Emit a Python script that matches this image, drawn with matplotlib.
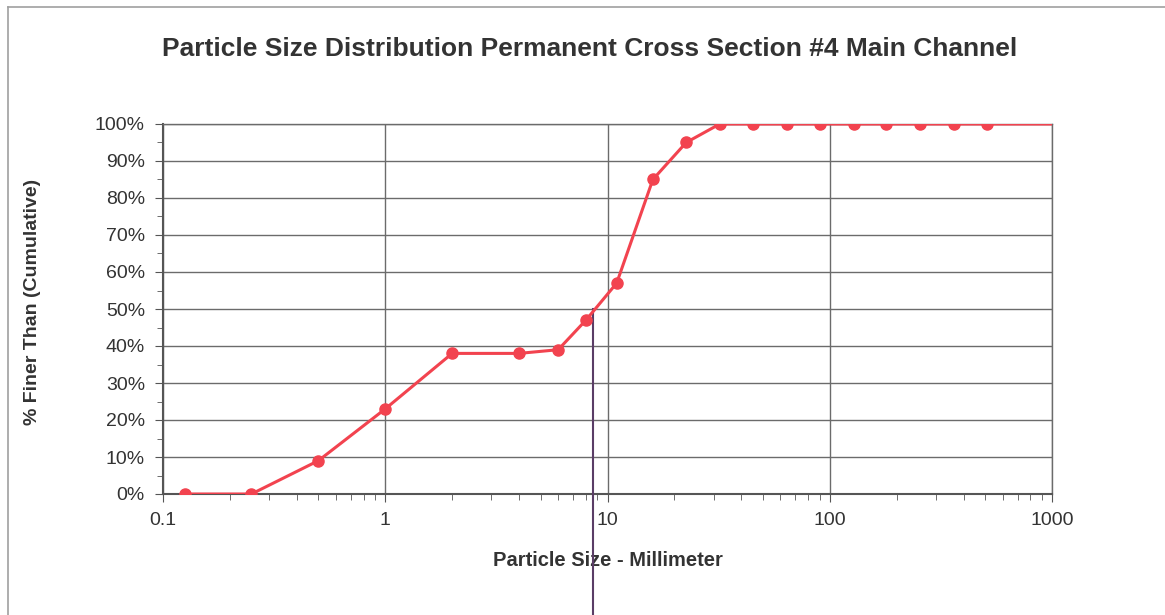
import matplotlib
matplotlib.use("Agg")
import matplotlib.pyplot as plt
from matplotlib.lines import Line2D
from matplotlib.ticker import FuncFormatter, MultipleLocator, LogLocator, NullFormatter

plt.rcParams["font.family"] = ["Liberation Sans", "DejaVu Sans"]

# sieve sizes (mm) and cumulative percent finer
sizes = [0.125, 0.25, 0.5, 1, 2, 4, 6, 8, 11, 16, 22.6, 32, 45, 64, 90,
         128, 180, 256, 362, 512, 1024]
finer = [0, 0, 9, 23, 38, 38, 39, 47, 57, 85, 95, 100, 100, 100, 100,
         100, 100, 100, 100, 100, 100]
d50 = 8.6  # mm, D50 marker line

x_ticks = [0.1, 1, 10, 100, 1000]
x_tick_labels = ["0.1", "1", "10", "100", "1000"]

text_col = "#333333"
grid_col = "#6b6b6b"
red = "#f2434f"

fig = plt.figure(figsize=(11.65, 6.15), dpi=100)
ax = fig.add_axes([163 / 1165, 121 / 615, 889 / 1165, 370 / 615])

ax.set_xscale("log")
ax.set_xlim(0.1, 1000)
ax.set_ylim(0, 100)

ax.plot(sizes, finer, color=red, lw=2.2, marker="o", ms=8,
        markevery=list(range(len(sizes) - 1)), zorder=4)

# D50 indicator running below the axes
ax.plot([d50, d50], [50, -33], color="#5a3d66", lw=1.5, clip_on=False, zorder=3)

ax.set_xticks(x_ticks)
ax.set_xticklabels(x_tick_labels)
ax.xaxis.set_minor_locator(LogLocator(base=10, subs=range(2, 10)))
ax.xaxis.set_minor_formatter(NullFormatter())
ax.yaxis.set_major_locator(MultipleLocator(10))
ax.yaxis.set_minor_locator(MultipleLocator(5))
ax.yaxis.set_major_formatter(FuncFormatter(lambda v, p: f"{int(v)}%"))

ax.grid(which="major", color=grid_col, lw=1.0)
ax.set_axisbelow(True)
for s in ax.spines.values():
    s.set_color(grid_col)
    s.set_linewidth(1.0)
ax.spines["left"].set_color("#555555")
ax.spines["bottom"].set_color("#555555")
ax.spines["left"].set_linewidth(1.5)
ax.spines["bottom"].set_linewidth(1.5)

ax.tick_params(which="major", direction="out", length=6, color="#555555",
               labelsize=14, labelcolor=text_col, pad=7)
ax.tick_params(which="minor", direction="out", length=4, color="#555555")

ax.set_xlabel("Particle Size - Millimeter", fontsize=14.5, fontweight="bold",
              color=text_col, labelpad=16)
ax.set_ylabel("% Finer Than (Cumulative)", fontsize=14, fontweight="bold",
              color=text_col)
ax.yaxis.set_label_coords(-0.137, 0.52)

fig.text(590 / 1165, 1 - 49 / 615, "Particle Size Distribution Permanent Cross Section #4 Main Channel",
         ha="center", va="center", fontsize=19, fontweight="bold", color=text_col)

# chart area border (left and top edges visible)
fig.add_artist(Line2D([8 / 1165, 8 / 1165], [0, 1 - 7 / 615], color="#a0a0a0", lw=1.2))
fig.add_artist(Line2D([8 / 1165, 1], [1 - 7 / 615, 1 - 7 / 615], color="#a0a0a0", lw=1.2))

fig.savefig("out.png", dpi=100)
